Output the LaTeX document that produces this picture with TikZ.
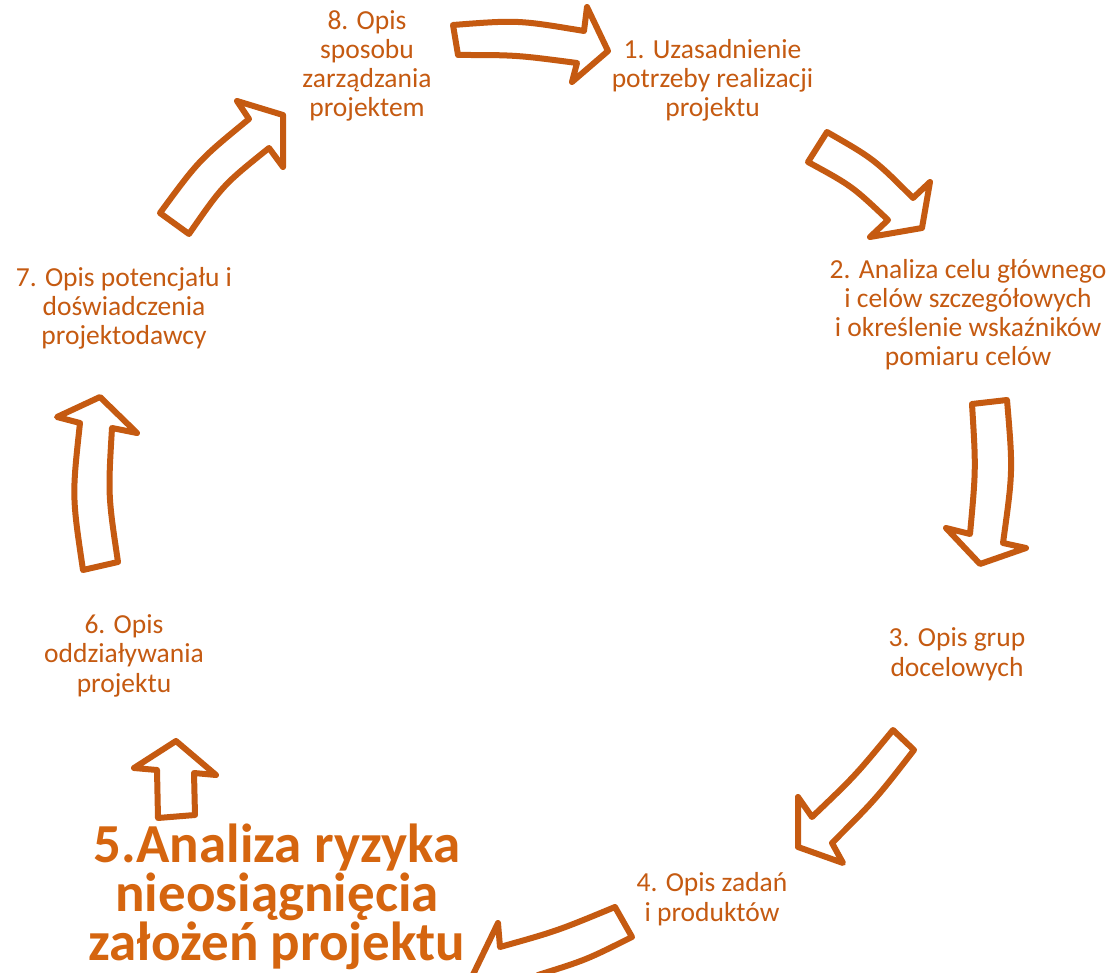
\documentclass[tikz,border=0pt]{standalone}
\usepackage{fontspec}
\setmainfont{Carlito}
\definecolor{arrowc}{HTML}{C55A11}
\definecolor{txtc}{HTML}{C55A11}
\definecolor{boldc}{HTML}{D5650F}
\begin{document}
\begin{tikzpicture}[x=1pt,y=-1pt,
  blockarrow/.style={draw=arrowc, line width=6pt, fill=white, line join=round},
  steplabel/.style={anchor=base, align=center, text=txtc, inner sep=0pt,
    font=\fontsize{27.5}{29.3}\selectfont},
  mainlabel/.style={anchor=base, align=center, text=boldc, inner sep=0pt,
    font=\fontsize{55}{46.7}\selectfont\bfseries}]
\clip (0,0) rectangle (1112,973);
\fill[white] (0,0) rectangle (1112,973);
% block arrows
\draw[blockarrow] (453,25) .. controls (518,20) .. (584,31) -- (587,7) -- (608,51) -- (572,82) -- (577,63) .. controls (516,55) .. (458,55) -- cycle;
\draw[blockarrow] (827,132) .. controls (874,159) .. (913,198) -- (930,182) -- (922,228) -- (870,237) -- (888,220) .. controls (852,186) .. (808,162) -- cycle;
\draw[blockarrow] (972,404) -- (1007,400) .. controls (1013,471) .. (1003,543) -- (1026,548) -- (980,564) -- (946,528) -- (970,534) .. controls (976,469) .. (972,404) -- cycle;
\draw[blockarrow] (893,730) -- (914,750) .. controls (876,799) .. (832,843) -- (843,863) -- (798,847) -- (798,797) -- (812,817) .. controls (855,776) .. (893,730) -- cycle;
\draw[blockarrow] (615,907) -- (632,937) .. controls (586,960) .. (538,975) -- (550,1000) -- (468,985) -- (498,923) -- (500,947) .. controls (557,931) .. (615,907) -- cycle;
\draw[blockarrow] (176,741) -- (216,775) -- (194,773) -- (195,815) -- (158,818) -- (157,770) -- (134,768) -- cycle;
\draw[blockarrow] (100,397) -- (137,433) -- (112,428) .. controls (108,495) .. (118,562) -- (83,570) .. controls (72,496) .. (80,423) -- (57,417) -- cycle;
\draw[blockarrow] (160,213) -- (189,234) .. controls (223,185) .. (269,148) -- (283,167) -- (283,115) -- (237,101) -- (249,119) .. controls (199,160) .. (160,213) -- cycle;
% labels (anchor=base sits on the last line's baseline)
\node[steplabel] (n8) at (367,117) {8. Opis\\sposobu\\zarządzania\\projektem};
\node[steplabel] (n1) at (712.5,117) {1. Uzasadnienie\\potrzeby realizacji\\projektu};
\node[steplabel] (n2) at (968,366) {2. Analiza celu głównego\\i celów szczegółowych\\i określenie wskaźników\\pomiaru celów};
\node[steplabel] (n3) at (957,676) {3. Opis grup\\docelowych};
\node[steplabel] (n4) at (712,921) {4. Opis zadań\\i produktów};
\node[mainlabel] (n5) at (277,960) {5.Analiza ryzyka\\nieosiągnięcia\\założeń projektu};
\node[steplabel] (n6) at (124,692) {6. Opis\\oddziaływania\\projektu};
\node[steplabel] (n7) at (124,345) {7. Opis potencjału i\\doświadczenia\\projektodawcy};
\end{tikzpicture}
\end{document}
